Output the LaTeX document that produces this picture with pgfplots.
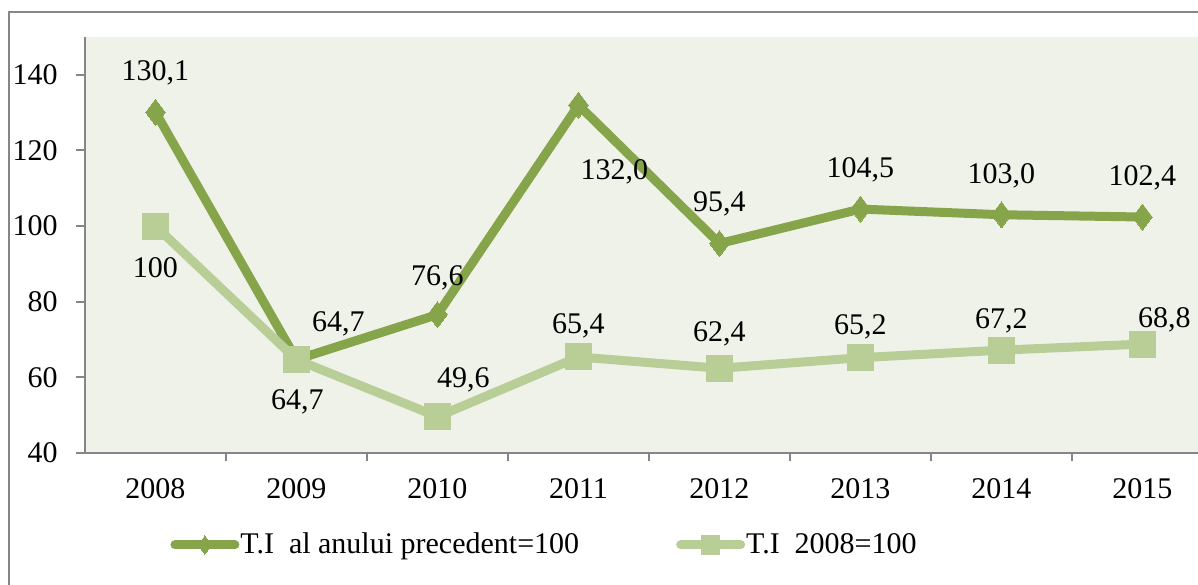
\documentclass[border=0pt]{standalone}
\usepackage{pgfplots}
\pgfplotsset{compat=1.18}
\usepackage{fontspec}
\setmainfont{Liberation Serif}
\definecolor{dkg}{HTML}{86A44A}
\definecolor{ltg}{HTML}{B8CE96}
\definecolor{bgc}{HTML}{EFF2E9}
\definecolor{axg}{HTML}{868686}
\begin{document}
\begin{tikzpicture}[font=\fontsize{15}{17}\selectfont]
\path[use as bounding box] (0,0) rectangle (599pt,292pt);
\draw[axg, line width=0.8pt] (4.5pt,-1pt) -- (4.5pt,286pt) -- (600pt,286pt);
\begin{axis}[
  at={(42.5pt,65.5pt)}, anchor=south west,
  scale only axis, width=556.5pt, height=208pt,
  xmin=-0.5, xmax=7.394, ymin=40, ymax=150,
  axis x line*=bottom, axis y line*=left,
  axis line style={axg, line width=1pt},
  axis background/.style={fill=bgc},
  xtick={0,...,7},
  xticklabels={2008,2009,2010,2011,2012,2013,2014,2015},
  minor x tick num=1,
  ytick={40,60,...,140},
  tick align=outside,
  major tick length=4.5pt, minor tick length=4pt,
  major x tick style={draw=none},
  tick style={axg, line width=1pt},
  minor x tick style={axg, line width=1pt},
  /pgf/number format/assume math mode=true,
  yticklabel style={inner sep=0pt, anchor=east, xshift=-9pt},
  xticklabel style={inner sep=0pt, anchor=north, yshift=-8pt},
  legend columns=2,
  legend style={at={(0.0764,-0.221)}, anchor=west, draw=none, fill=none,
    inner sep=0pt, nodes={inner sep=0.5pt},
    /tikz/every even column/.append style={column sep=48pt}},
  legend cell align=left,
  legend image code/.code={\draw[#1, every mark/.append style={scale=0.7}, mark repeat=2, mark phase=2] plot coordinates {(0pt,0pt) (15pt,0pt) (30pt,0pt)};},
  clip=false,
]
\addplot[dkg, line width=4.5pt, line join=round, line cap=round, mark=diamond*, mark size=6.5pt,
  mark options={fill=dkg, draw=none, line width=0pt, line join=miter}]
  coordinates {(0,130.1) (1,64.7) (2,76.6) (3,132.0) (4,95.4) (5,104.5) (6,103.0) (7,102.4)};
\addlegendentry{T.I~~al anului precedent=100}
\addplot[ltg, line width=4.5pt, line join=round, line cap=round, mark=square*, mark size=6.5pt,
  mark options={fill=ltg, draw=none, line width=0pt, line join=miter}]
  coordinates {(0,100) (1,64.7) (2,49.6) (3,65.4) (4,62.4) (5,65.2) (6,67.2) (7,68.8)};
\addlegendentry{T.I~~2008=100}
\begin{scope}[every node/.style={inner sep=0pt}]
\node[xshift=0pt,yshift=19.5pt] at (axis cs:0,130.1) {130,1};
\node[xshift=21pt,yshift=18pt] at (axis cs:1,64.7) {64,7};
\node[xshift=0pt,yshift=18.5pt] at (axis cs:2,76.6) {76,6};
\node[xshift=18pt,yshift=-33.5pt] at (axis cs:3,132.0) {132,0};
\node[xshift=0pt,yshift=20pt] at (axis cs:4,95.4) {95,4};
\node[xshift=0pt,yshift=19.5pt] at (axis cs:5,104.5) {104,5};
\node[xshift=0pt,yshift=19.5pt] at (axis cs:6,103.0) {103,0};
\node[xshift=0pt,yshift=19.5pt] at (axis cs:7,102.4) {102,4};
\node[xshift=0pt,yshift=-21pt] at (axis cs:0,100) {100};
\node[xshift=0.5pt,yshift=-21pt] at (axis cs:1,64.7) {64,7};
\node[xshift=13pt,yshift=18.5pt] at (axis cs:2,49.6) {49,6};
\node[xshift=0pt,yshift=15.5pt] at (axis cs:3,65.4) {65,4};
\node[xshift=0pt,yshift=17pt] at (axis cs:4,62.4) {62,4};
\node[xshift=0pt,yshift=15.5pt] at (axis cs:5,65.2) {65,2};
\node[xshift=0pt,yshift=14.5pt] at (axis cs:6,67.2) {67,2};
\node[xshift=11pt,yshift=12pt] at (axis cs:7,68.8) {68,8};
\end{scope}
\end{axis}
\end{tikzpicture}
\end{document}
